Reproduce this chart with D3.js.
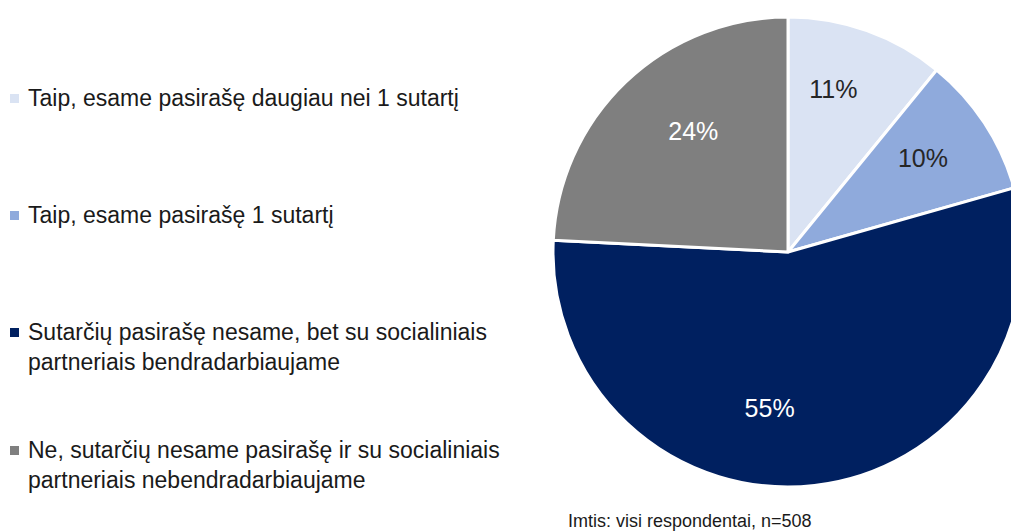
<!DOCTYPE html>
<html>
<head>
<meta charset="utf-8">
<script src="https://cdn.jsdelivr.net/npm/d3@7"></script>
<style>
  html, body { margin: 0; padding: 0; background: #fff; }
  svg { display: block; font-family: "Liberation Sans", Arial, sans-serif; }
</style>
</head>
<body>
<svg id="chart" width="1011" height="532"></svg>
<script>
// ---- data ----
const categories = [
  "Taip, esame pasirašę daugiau nei 1 sutartį",
  "Taip, esame pasirašę 1 sutartį",
  "Sutarčių pasirašę nesame, bet su socialiniais partneriais bendradarbiaujame",
  "Ne, sutarčių nesame pasirašę ir su socialiniais partneriais nebendradarbiaujame"
];
const legendLines = [
  ["Taip, esame pasirašę daugiau nei 1 sutartį"],
  ["Taip, esame pasirašę 1 sutartį"],
  ["Sutarčių pasirašę nesame, bet su socialiniais", "partneriais bendradarbiaujame"],
  ["Ne, sutarčių nesame pasirašę ir su socialiniais", "partneriais nebendradarbiaujame"]
];
const values = [10.9, 9.7, 55.2, 24.2];
const footnote = "Imtis: visi respondentai, n=508";

// ---- style / layout ----
const colors = ["#dae3f3", "#8faadc", "#002060", "#7f7f7f"];
const labelColors = ["#262626", "#262626", "#ffffff", "#ffffff"];
const labelNudge = [[-10, -7], [-3, -3], [-37, -8], [19, -1]];
const cx = 788, cy = 252, R = 235;
const legendY = [98, 215, 332, 450];

const svg = d3.select("#chart");

const pie = d3.pie().sort(null).value(d => d);
const arcs = pie(values);
const arc = d3.arc().innerRadius(0).outerRadius(R);
const labelArc = d3.arc().innerRadius(165).outerRadius(165);

const g = svg.append("g").attr("transform", `translate(${cx},${cy})`);
g.selectAll("path.slice")
  .data(arcs)
  .join("path")
  .attr("class", "slice")
  .attr("d", arc)
  .attr("fill", (d, i) => colors[i])
  .attr("stroke", "#fff")
  .attr("stroke-width", 3)
  .attr("stroke-linejoin", "round");

const fmt = d3.format(".0f");
g.selectAll("text.lbl")
  .data(arcs)
  .join("text")
  .attr("class", "lbl")
  .attr("x", (d, i) => labelArc.centroid(d)[0] + labelNudge[i][0])
  .attr("y", (d, i) => labelArc.centroid(d)[1] + labelNudge[i][1])
  .attr("dy", "0.35em")
  .attr("text-anchor", "middle")
  .attr("font-size", 25)
  .attr("fill", (d, i) => labelColors[i])
  .text(d => fmt(d.data) + "%");

// legend
const lg = svg.append("g");
legendLines.forEach((lines, i) => {
  const y0 = legendY[i];
  lg.append("rect")
    .attr("x", 10).attr("y", y0 - 4)
    .attr("width", 9).attr("height", 9)
    .attr("fill", colors[i]);
  const t = lg.append("text")
    .attr("x", 28).attr("y", y0)
    .attr("font-size", 23)
    .attr("fill", "#1a1a1a");
  lines.forEach((ln, j) => {
    t.append("tspan").attr("x", 28).attr("dy", j === 0 ? "0.35em" : 30).text(ln);
  });
});

svg.append("text")
  .attr("x", 568).attr("y", 527)
  .attr("font-size", 18)
  .attr("fill", "#1a1a1a")
  .text(footnote);
</script>
</body>
</html>
